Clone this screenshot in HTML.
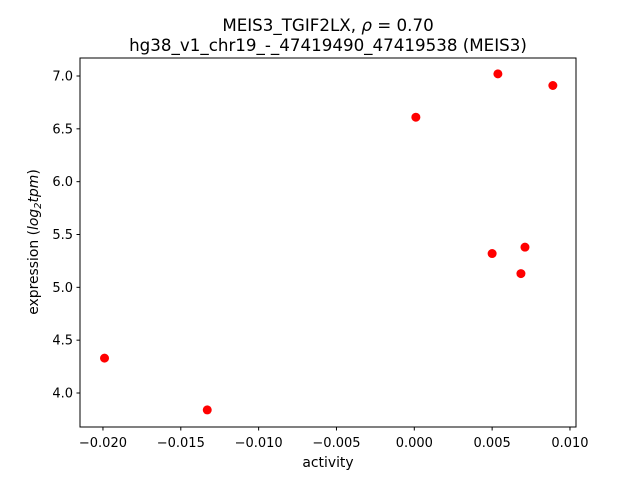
<!DOCTYPE html>
<html><head><meta charset="utf-8"><style>
body{margin:0;background:#fff;font-family:"DejaVu Sans","Liberation Sans",sans-serif;}
svg text{font-family:"DejaVu Sans","Liberation Sans",sans-serif;fill:#000;}
</style></head><body>
<svg id="chart" width="640" height="480">
<rect x="0" y="0" width="640" height="480" fill="#fff"/>
<text x="328" y="31" font-size="16.7" text-anchor="middle">MEIS3_TGIF2LX, <tspan font-style="italic">ρ</tspan> = 0.70</text>
<text x="328" y="51" font-size="16.7" text-anchor="middle">hg38_v1_chr19_-_47419490_47419538 (MEIS3)</text>
<g id="ticks"></g>
<g id="points"></g>
<rect x="80" y="58" width="496" height="369" fill="none" stroke="#000" stroke-width="1"/>
<text x="328" y="467" font-size="13.9" text-anchor="middle">activity</text>
<text transform="translate(38,242) rotate(-90)" font-size="13.9" text-anchor="middle">expression (<tspan font-style="italic">log</tspan><tspan font-size="10" dy="3" font-style="italic">2</tspan><tspan dy="-3" font-style="italic">tpm</tspan>)</text>
</svg>
<script>
const xValues=[-0.0199,-0.0133,0.0001,0.00537,0.0089,0.0050,0.00711,0.00685];
const yValues=[4.33,3.84,6.61,7.02,6.91,5.32,5.38,5.13];
const xTicks=[-0.020,-0.015,-0.010,-0.005,0.000,0.005,0.010];
const xTickLabels=["−0.020","−0.015","−0.010","−0.005","0.000","0.005","0.010"];
const yTicks=[4.0,4.5,5.0,5.5,6.0,6.5,7.0];
const yTickLabels=["4.0","4.5","5.0","5.5","6.0","6.5","7.0"];
function xs(v){return 414.3+v*15567;}
function ys(v){return 393-(v-4)*105.67;}
const NS="http://www.w3.org/2000/svg";
const tg=document.getElementById('ticks');
xTicks.forEach((t,i)=>{
  const l=document.createElementNS(NS,'line');
  l.setAttribute('x1',xs(t));l.setAttribute('x2',xs(t));l.setAttribute('y1',427);l.setAttribute('y2',430.5);l.setAttribute('stroke','#000');
  
  
  tg.appendChild(l);
  const tx=document.createElementNS(NS,'text');
  tx.setAttribute('x',xs(t));tx.setAttribute('y',447);tx.setAttribute('font-size','13');tx.setAttribute('text-anchor','middle');
  tx.textContent=xTickLabels[i];
  
  
  tg.appendChild(tx);
});
yTicks.forEach((t,i)=>{
  const l=document.createElementNS(NS,'line');
  l.setAttribute('x1',76.5);l.setAttribute('x2',80);l.setAttribute('y1',ys(t));l.setAttribute('y2',ys(t));l.setAttribute('stroke','#000');
  
  
  tg.appendChild(l);
  const tx=document.createElementNS(NS,'text');
  tx.setAttribute('x',73);tx.setAttribute('y',ys(t)+4.5);tx.setAttribute('font-size','13');tx.setAttribute('text-anchor','end');
  tx.textContent=yTickLabels[i];
  
  
  tg.appendChild(tx);
});
const pg=document.getElementById('points');
xValues.forEach((x,i)=>{
  const c=document.createElementNS(NS,'circle');
  c.setAttribute('cx',xs(x));c.setAttribute('cy',ys(yValues[i]));c.setAttribute('r',4.5);c.setAttribute('fill','#ff0000');
  
  
  pg.appendChild(c);
});
</script>
</body></html>
